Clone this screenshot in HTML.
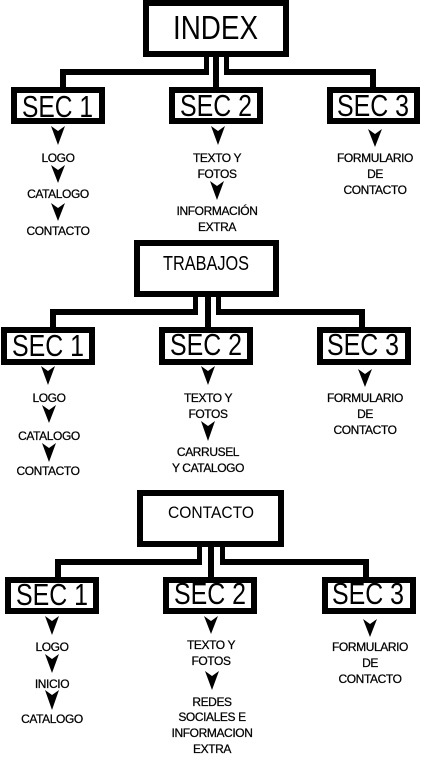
<!DOCTYPE html>
<html><head><meta charset="utf-8"><style>
html,body{margin:0;padding:0;background:#fff;}
svg{display:block;}
text{font-family:"Liberation Sans",sans-serif;fill:#000;}
.s{font-size:12px;text-anchor:middle;letter-spacing:-0.4px;stroke:#000;stroke-width:0.25;}
</style></head><body>
<svg width="422" height="757" viewBox="0 0 422 757" xmlns="http://www.w3.org/2000/svg">
<g fill="#000">
<!-- Section 1 -->
<rect x="146" y="3" width="140" height="51" fill="#fff" stroke="#000" stroke-width="6"/>
<text x="173" y="39" font-size="33" textLength="85" lengthAdjust="spacingAndGlyphs">INDEX</text>
<rect x="204" y="56" width="5" height="18"/>
<rect x="213" y="56" width="6" height="33"/>
<rect x="224" y="56" width="5" height="18"/>
<rect x="60" y="69" width="149" height="6"/>
<rect x="60" y="69" width="6" height="20"/>
<rect x="224" y="69" width="152" height="6"/>
<rect x="370" y="69" width="6" height="20"/>
<rect x="14" y="90" width="88" height="31" fill="#fff" stroke="#000" stroke-width="6"/>
<rect x="172" y="90" width="88" height="31" fill="#fff" stroke="#000" stroke-width="6"/>
<rect x="330" y="90" width="87" height="31" fill="#fff" stroke="#000" stroke-width="6"/>
<text x="22" y="117" font-size="31" textLength="71" lengthAdjust="spacingAndGlyphs">SEC 1</text>
<text x="180" y="116" font-size="31" textLength="72" lengthAdjust="spacingAndGlyphs">SEC 2</text>
<text x="337" y="116" font-size="31" textLength="72" lengthAdjust="spacingAndGlyphs">SEC 3</text>
<polygon points="51,126 58,131 65,126 58,145"/>
<polygon points="51,165 58,170 65,165 58,183"/>
<polygon points="51,203 58,208 65,203 58,221"/>
<polygon points="211,126 218,131 225,126 218,145"/>
<polygon points="210,181 217,186 224,181 217,200"/>
<polygon points="368,129 375,134 382,129 375,147"/>
<text class="s" x="58" y="162">LOGO</text>
<text class="s" x="58" y="198">CATALOGO</text>
<text class="s" x="58" y="235">CONTACTO</text>
<text class="s" x="217" y="162">TEXTO Y</text>
<text class="s" x="217" y="178">FOTOS</text>
<text class="s" x="217" y="215">INFORMACIÓN</text>
<text class="s" x="217" y="231">EXTRA</text>
<text class="s" x="375" y="162">FORMULARIO</text>
<text class="s" x="375" y="178">DE</text>
<text class="s" x="375" y="194">CONTACTO</text>

<!-- Section 2 -->
<rect x="137" y="243" width="139" height="51" fill="#fff" stroke="#000" stroke-width="6"/>
<text x="163" y="270" font-size="20" textLength="86" lengthAdjust="spacingAndGlyphs">TRABAJOS</text>
<rect x="193" y="296" width="5" height="19"/>
<rect x="205" y="296" width="6" height="33"/>
<rect x="216" y="296" width="5" height="19"/>
<rect x="50" y="309" width="148" height="6"/>
<rect x="50" y="309" width="6" height="20"/>
<rect x="216" y="309" width="149" height="6"/>
<rect x="359" y="309" width="6" height="20"/>
<rect x="4" y="330" width="88" height="32" fill="#fff" stroke="#000" stroke-width="6"/>
<rect x="162" y="330" width="88" height="32" fill="#fff" stroke="#000" stroke-width="6"/>
<rect x="320" y="330" width="88" height="32" fill="#fff" stroke="#000" stroke-width="6"/>
<text x="12" y="356" font-size="31" textLength="72" lengthAdjust="spacingAndGlyphs">SEC 1</text>
<text x="170" y="355" font-size="31" textLength="72" lengthAdjust="spacingAndGlyphs">SEC 2</text>
<text x="327" y="355" font-size="31" textLength="72" lengthAdjust="spacingAndGlyphs">SEC 3</text>
<polygon points="41,366 48,371 55,366 48,385"/>
<polygon points="42,405 49,410 56,405 49,423"/>
<polygon points="42,443 49,448 56,443 49,462"/>
<polygon points="201,366 208,371 215,366 208,385"/>
<polygon points="201,421 208,426 215,421 208,441"/>
<polygon points="358,369 365,374 372,369 365,387"/>
<text class="s" x="49" y="402">LOGO</text>
<text class="s" x="49" y="440">CATALOGO</text>
<text class="s" x="48" y="475">CONTACTO</text>
<text class="s" x="208" y="402">TEXTO Y</text>
<text class="s" x="208" y="418">FOTOS</text>
<text class="s" x="208" y="456">CARRUSEL</text>
<text class="s" x="208" y="472">Y CATALOGO</text>
<text class="s" x="365" y="402">FORMULARIO</text>
<text class="s" x="365" y="418">DE</text>
<text class="s" x="365" y="434">CONTACTO</text>

<!-- Section 3 -->
<rect x="140" y="493" width="141" height="51" fill="#fff" stroke="#000" stroke-width="6"/>
<text x="168" y="518" font-size="17" textLength="86" lengthAdjust="spacingAndGlyphs">CONTACTO</text>
<rect x="197" y="546" width="5" height="19"/>
<rect x="208" y="546" width="6" height="32"/>
<rect x="220" y="546" width="5" height="19"/>
<rect x="55" y="559" width="147" height="6"/>
<rect x="55" y="559" width="6" height="20"/>
<rect x="220" y="559" width="149" height="6"/>
<rect x="363" y="559" width="6" height="20"/>
<rect x="8" y="580" width="88" height="31" fill="#fff" stroke="#000" stroke-width="6"/>
<rect x="166" y="580" width="88" height="31" fill="#fff" stroke="#000" stroke-width="6"/>
<rect x="325" y="580" width="88" height="31" fill="#fff" stroke="#000" stroke-width="6"/>
<text x="16" y="605" font-size="31" textLength="72" lengthAdjust="spacingAndGlyphs">SEC 1</text>
<text x="174" y="604" font-size="31" textLength="72" lengthAdjust="spacingAndGlyphs">SEC 2</text>
<text x="332" y="604" font-size="31" textLength="72" lengthAdjust="spacingAndGlyphs">SEC 3</text>
<polygon points="45,616 52,621 59,616 52,635"/>
<polygon points="45,654 52,659 59,654 52,673"/>
<polygon points="45,690 52,695 59,690 52,710"/>
<polygon points="204,616 211,621 218,616 211,634"/>
<polygon points="205,671 212,676 219,671 212,690"/>
<polygon points="363,619 370,624 377,619 370,637"/>
<text class="s" x="52" y="651">LOGO</text>
<text class="s" x="52" y="688">INICIO</text>
<text class="s" x="52" y="723">CATALOGO</text>
<text class="s" x="211" y="649">TEXTO Y</text>
<text class="s" x="211" y="665">FOTOS</text>
<text class="s" x="212" y="706">REDES</text>
<text class="s" x="212" y="721">SOCIALES E</text>
<text class="s" x="212" y="737">INFORMACION</text>
<text class="s" x="212" y="753">EXTRA</text>
<text class="s" x="370" y="651">FORMULARIO</text>
<text class="s" x="370" y="667">DE</text>
<text class="s" x="370" y="683">CONTACTO</text>
</g>
</svg>
</body></html>
